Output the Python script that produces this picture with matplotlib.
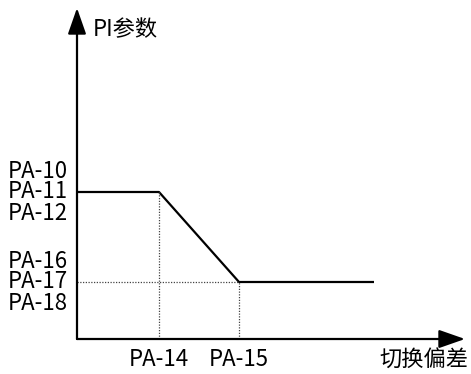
import matplotlib
matplotlib.use("Agg")
import matplotlib.pyplot as plt

plt.rcParams['font.family'] = ['Noto Sans CJK SC', 'DejaVu Sans']

# curve: switching deviation -> PI parameter (axis units, origin at axes corner)
curve_x = [0, 82, 162, 297]
curve_y = [147, 147, 57, 57]
x_max, y_max = 388, 331

high_labels = ["PA-10", "PA-11", "PA-12"]
low_labels = ["PA-16", "PA-17", "PA-18"]
x_labels = ["PA-14", "PA-15"]
x_title = "切换偏差"
y_title = "PI参数"

W, H = 471, 374
fig = plt.figure(figsize=(W / 100, H / 100), dpi=100)
ax = fig.add_axes([77 / W, (H - 339) / H, (465 - 77) / W, (339 - 8) / H])
ax.set_xlim(0, x_max)
ax.set_ylim(0, y_max)
ax.axis("off")

arrow = dict(arrowstyle="-|>,head_length=0.8,head_width=0.28", color="black",
             lw=1.6, mutation_scale=20, shrinkA=0, shrinkB=0)
ax.annotate("", xy=(x_max, 0), xytext=(0, 0), arrowprops=arrow, annotation_clip=False)
ax.annotate("", xy=(0, y_max), xytext=(0, 0), arrowprops=arrow, annotation_clip=False)

ax.plot(curve_x, curve_y, color="black", lw=1.6, solid_capstyle="butt", clip_on=False)

dot = dict(color="#444444", lw=0.9, ls=(0, (1, 1.2)))
ax.plot([curve_x[1], curve_x[1]], [0, curve_y[1]], **dot)
ax.plot([curve_x[2], curve_x[2]], [0, curve_y[2]], **dot)
ax.plot([0, curve_x[2]], [curve_y[2], curve_y[2]], **dot)

fs = 16
for i, lab in enumerate(high_labels):
    ax.text(-9, curve_y[1] + (1 - i) * 21, lab, ha="right", va="center", fontsize=fs)
for i, lab in enumerate(low_labels):
    ax.text(-9, curve_y[2] + (1 - i) * 21, lab, ha="right", va="center", fontsize=fs)
for xv, lab in zip(curve_x[1:3], x_labels):
    ax.text(xv, -20, lab, ha="center", va="center", fontsize=fs)
ax.text(x_max + 3, -20, x_title, ha="right", va="center", fontsize=fs)
ax.text(16, y_max - 22, y_title, ha="left", va="center", fontsize=fs)

fig.savefig("out.png", dpi=100)
